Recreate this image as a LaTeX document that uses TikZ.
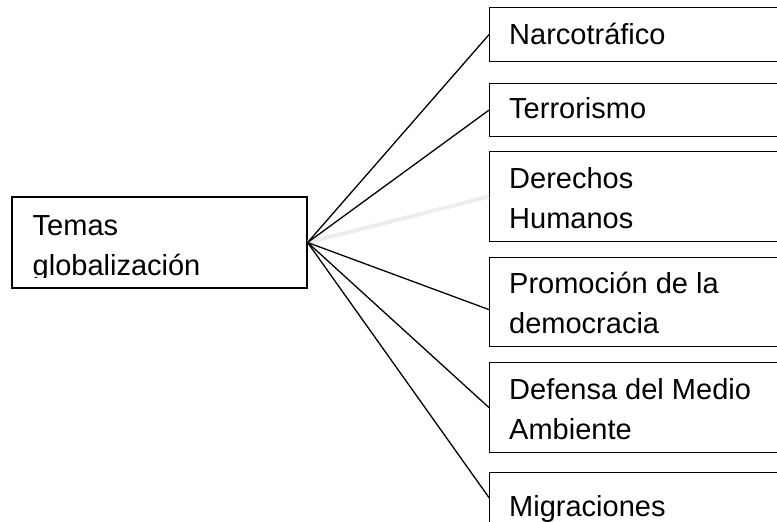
\documentclass[tikz,border=0pt]{standalone}
\usepackage{fontspec}
\setmainfont{Liberation Sans}
\begin{document}
\begin{tikzpicture}[x=1pt, y=-1pt,
    caja/.style={draw, line width=1.2pt, minimum width=330pt, anchor=north west, inner sep=0pt},
    texto/.style={anchor=base west, inner sep=0pt, align=left, font=\fontsize{29}{40}\selectfont},
    rama/.style={line width=1.3pt}]
    \useasboundingbox (0,0) rectangle (777,522);
    \clip (0,0) rectangle (777,522);

    % caja central
    \node[draw, line width=1.2pt, minimum width=295pt, minimum height=91pt, inner sep=0pt] (temas) at (159.5,242.5) {};
    \begin{scope}
        \clip (12,197) rectangle (307,277);
        \node[texto] (temastxt) at (32.5,275) {Temas\\globalización};
    \end{scope}

    % cajas de la derecha
    \node[caja, minimum height=54pt] (narco) at (489,7) {};
    \node[caja, minimum height=53pt] (terror) at (489,83) {};
    \node[caja, minimum height=90pt] (derechos) at (489,151) {};
    \node[caja, minimum height=89pt] (democracia) at (489,257) {};
    \node[caja, minimum height=90pt] (ambiente) at (489,362) {};
    \node[caja, minimum height=64pt] (migra) at (489,472) {};

    \node[texto] (narcotxt) at (509,45) {Narcotráfico};
    \node[texto] (terrortxt) at (509,118) {Terrorismo};
    \node[texto] (derechostxt) at (509,228) {Derechos\\Humanos};
    \node[texto] (democraciatxt) at (509,333) {Promoción de la\\democracia};
    \node[texto] (ambientetxt) at (509,439) {Defensa del Medio\\Ambiente};
    \node[texto] (migratxt) at (509,516) {Migraciones};

    % ramas
    \draw[rama, line width=4pt, black!7] (temas.east) -- (derechos.west);
    \draw[rama] (temas.east) -- (narco.west);
    \draw[rama] (temas.east) -- (terror.west);
    \draw[rama] (temas.east) -- ([yshift=-7.5pt]democracia.west);
    \draw[rama] (temas.east) -- (ambiente.west);
    \draw[rama] (temas.east) -- ([yshift=7pt]migra.west);
\end{tikzpicture}
\end{document}
